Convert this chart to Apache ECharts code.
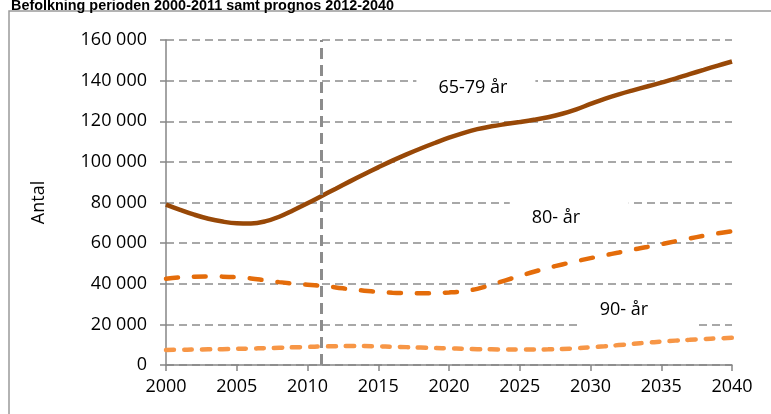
<!DOCTYPE html>
<html>
<head>
<meta charset="utf-8">
<script src="https://cdn.jsdelivr.net/npm/echarts@6/dist/echarts.min.js"></script>
<style>
    html, body { margin: 0; padding: 0; background: #fff; }
    #chart { width: 771px; height: 414px; }
</style>
</head>
<body>
<div id="chart"></div>
<script>
const years = []
for (let y = 2000; y <= 2040; y++) years.push(y)

// Antal personer per år
const age6579 = [
    79000, 76400, 74000, 72000, 70600, 69800, 69700, 70700, 73000, 76200,
    79600, 83200, 86800, 90400, 93900, 97300, 100600, 103700, 106600, 109300,
    111900, 114200, 116100, 117500, 118600, 119600, 120700, 122000, 123700, 125900,
    128500, 131000, 133200, 135200, 137100, 139000, 141000, 143200, 145300, 147400,
    149400
]
const age80 = [
    42500, 43200, 43500, 43600, 43500, 43200, 42600, 41700, 40800, 40100,
    39500, 38900, 38200, 37300, 36600, 36000, 35600, 35400, 35300, 35400,
    35700, 36300, 37500, 39500, 41700, 43800, 45900, 47800, 49500, 51100,
    52600, 54000, 55400, 56800, 58100, 59500, 60900, 62300, 63600, 64800,
    65800
]
const age90 = [
    7400, 7500, 7600, 7700, 7800, 8000, 8100, 8300, 8500, 8700,
    8900, 9100, 9250, 9300, 9300, 9200, 9000, 8800, 8600, 8400,
    8200, 8000, 7800, 7700, 7600, 7600, 7600, 7700, 7900, 8200,
    8700, 9200, 9800, 10400, 11000, 11500, 12000, 12400, 12800, 13100,
    13400
]
const seriesNames = ['65-79 år', '80- år', '90- år']
// etiketternas plats i diagrammet [år, antal]
const labelPos = [[2021.9, 136400], [2028.5, 72400], [2033.3, 27100]]
const splitYear = 2011

const toPairs = (arr) => arr.map((v, i) => [years[i], v])
const fmt = (v) => String(v).replace(/\B(?=(\d{3})+(?!\d))/g, ' ')
const font = 'Open Sans'

const chart = echarts.init(document.getElementById('chart'))

const option = {
    animation: false,
    title: {
        text: 'Befolkning perioden 2000-2011 samt prognos 2012-2040',
        left: 6,
        top: -6,
        textStyle: { fontFamily: 'Liberation Sans', fontWeight: 'bold', fontSize: 14.4, color: '#000' }
    },
    graphic: [{
        type: 'rect',
        shape: { x: 9, y: 11, width: 900, height: 500 },
        style: { fill: 'none', stroke: '#9a9a9a', lineWidth: 1.5 },
        silent: true
    }],
    grid: { left: 166, right: 39, top: 40, bottom: 49 },
    xAxis: {
        type: 'value',
        min: 2000,
        max: 2040,
        interval: 5,
        axisLine: { lineStyle: { color: '#868686', width: 1.5 } },
        axisTick: { show: true, length: 6, lineStyle: { color: '#868686', width: 1.5 } },
        axisLabel: { color: '#000', fontFamily: font, fontSize: 18, margin: 13, formatter: (v) => String(v) },
        splitLine: { show: false }
    },
    yAxis: {
        type: 'value',
        min: 0,
        max: 160000,
        interval: 20000,
        name: 'Antal',
        nameLocation: 'middle',
        nameGap: 118,
        nameTextStyle: { color: '#000', fontFamily: font, fontSize: 18 },
        axisLine: { show: true, lineStyle: { color: '#868686', width: 1.5 } },
        axisTick: { show: true, length: 6, lineStyle: { color: '#868686', width: 1.5 } },
        axisLabel: { color: '#000', fontFamily: font, fontSize: 18, margin: 19, formatter: fmt },
        splitLine: { show: true, lineStyle: { color: '#8c8c8c', width: 1.5, type: [8, 5] } }
    },
    series: [
        {
            name: 'hjälp',
            type: 'line',
            z: 1,
            data: [],
            markLine: {
                silent: true,
                symbol: 'none',
                label: { show: false },
                lineStyle: { color: '#8c8c8c', width: 3, type: [11, 6] },
                data: [{ xAxis: splitYear }]
            },
            markPoint: {
                silent: true,
                symbol: 'rect',
                symbolSize: [119, 40],
                itemStyle: { color: '#fff' },
                label: {
                    show: true,
                    position: 'insideLeft',
                    distance: 22,
                    color: '#000',
                    fontFamily: font,
                    fontSize: 18,
                    formatter: (p) => p.name
                },
                data: seriesNames.map((n, i) => ({ name: n, coord: labelPos[i] }))
            }
        },
        {
            name: seriesNames[0],
            type: 'line',
            smooth: 0.4,
            showSymbol: false,
            data: toPairs(age6579),
            lineStyle: { color: '#984807', width: 4.5 }
        },
        {
            name: seriesNames[1],
            type: 'line',
            smooth: 0.4,
            showSymbol: false,
            data: toPairs(age80),
            lineStyle: { color: '#E46C0A', width: 4.5, type: [12, 16], cap: 'round' }
        },
        {
            name: seriesNames[2],
            type: 'line',
            smooth: 0.4,
            showSymbol: false,
            data: toPairs(age90),
            lineStyle: { color: '#F79646', width: 4.5, type: [8, 10], cap: 'round' }
        }
    ]
}

chart.setOption(option)
</script>
</body>
</html>
